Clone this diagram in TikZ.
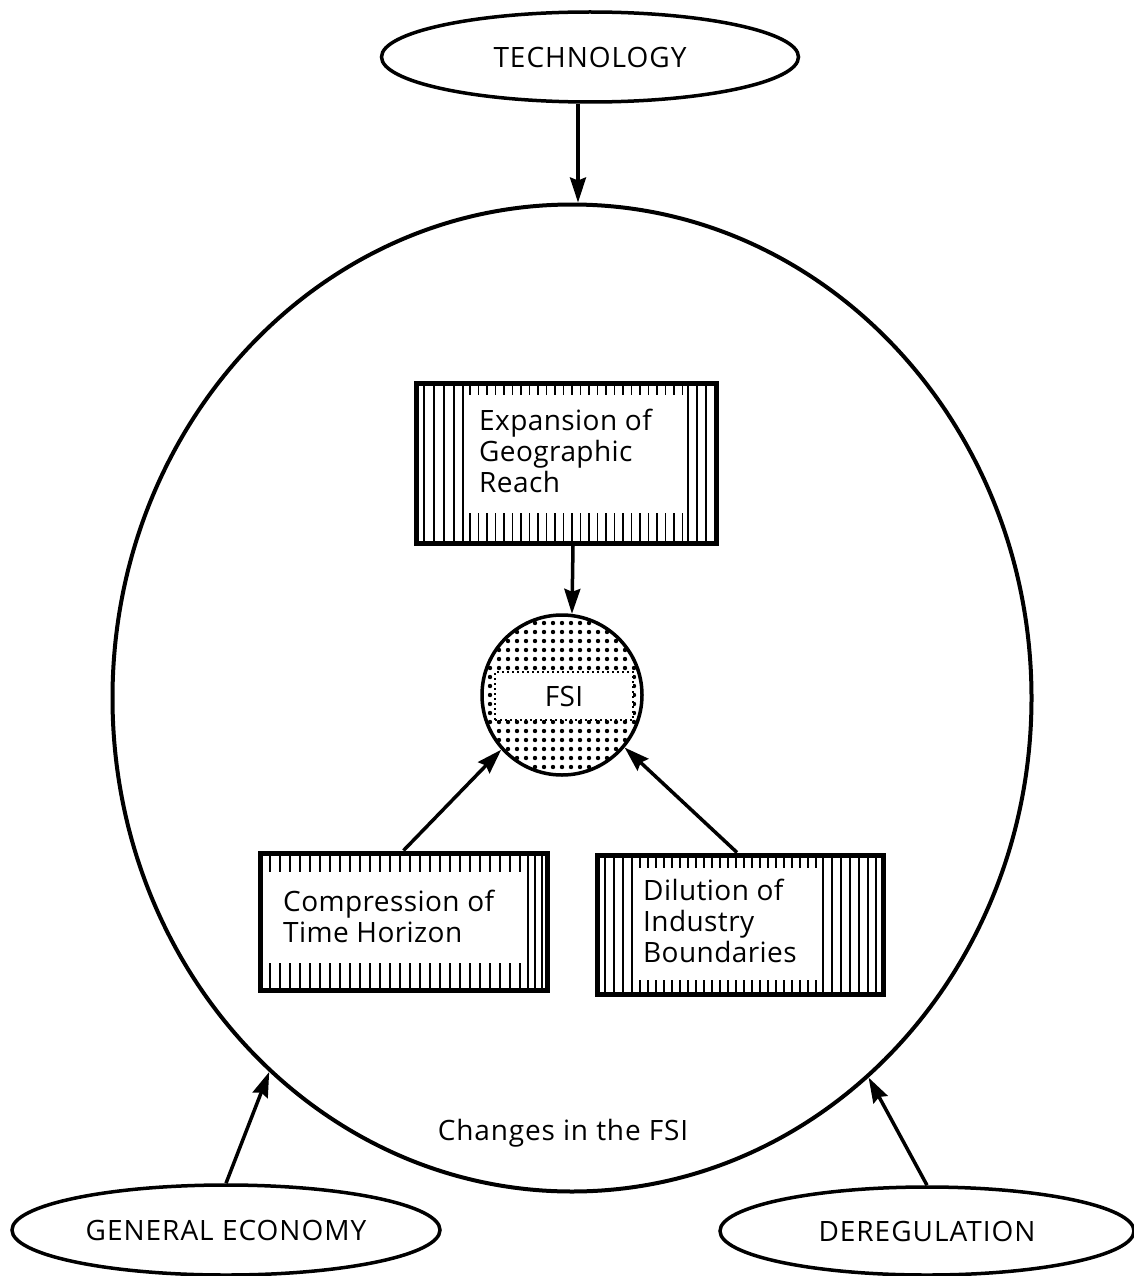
\documentclass[tikz,border=0pt]{standalone}
\usepackage{fontspec}
\setmainfont{Open Sans}[LetterSpace=1.5]
\newfontfamily\ovalfont{Open Sans}[LetterSpace=3.5]
\newfontfamily\capfont{Open Sans}[LetterSpace=3]
\usetikzlibrary{shapes.geometric,arrows.meta,calc}
\begin{document}
\begin{tikzpicture}[x=1pt,y=-1pt,
  oval/.style={ellipse, draw, line width=3.5pt, inner sep=0pt, font=\ovalfont\fontsize{28}{32}\selectfont},
  arr/.style={line width=3.5pt, -{Stealth[length=25pt,width=16pt,inset=3pt]}},
  boxframe/.style={draw, line width=5pt, inner sep=0pt},
  boxtext/.style={align=left, inner sep=0pt, font=\fontsize{28}{31}\selectfont},
  hatch/.style={line width=1.6pt}]
\useasboundingbox[fill=white] (0,0) rectangle (1133,1276);

% the surrounding industry
\node[ellipse, draw, line width=4pt, minimum width=919pt, minimum height=987pt, inner sep=0pt] (world) at (572,698) {};

% external forces
\node[oval, minimum width=417pt, minimum height=90pt] (tech) at (590,57) {TECHNOLOGY};
\node[oval, minimum width=428pt, minimum height=90pt] (econ) at (226,1230) {GENERAL ECONOMY};
\node[oval, minimum width=414pt, minimum height=88pt] (dereg) at (927,1231) {DEREGULATION};

% Expansion of Geographic Reach
\node[boxframe, minimum width=300pt, minimum height=160pt] (expbox) at (566,463) {};
\foreach \x in {424,434,444,454,463,688,697,706} \draw[hatch] (\x,383) -- (\x,543);
\foreach \x in {470,478.5,...,684} \draw[hatch] (\x,386) -- (\x,395);
\foreach \x in {470,478.5,...,684} \draw[hatch] (\x,513) -- (\x,541);
\node[boxtext, anchor=west] (exptext) at (479,451) {Expansion of\\Geographic\\Reach};

% Compression of Time Horizon
\node[boxframe, minimum width=287pt, minimum height=137pt] (compbox) at (403.5,921.5) {};
\foreach \x in {528,535,542} \draw[hatch] (\x,853) -- (\x,990);
\foreach \x in {270,280,...,522} \draw[hatch] (\x,856) -- (\x,872);
\foreach \x in {270,280,...,522} \draw[hatch] (\x,963) -- (\x,988);
\node[boxtext, anchor=west] (comptext) at (283,916) {Compression of\\Time Horizon};

% Dilution of Industry Boundaries
\node[boxframe, minimum width=286pt, minimum height=139pt] (dilbox) at (740,924.5) {};
\foreach \x in {605,614,623,632,823,832,841,850,859,868,876} \draw[hatch] (\x,855) -- (\x,994);
\foreach \x in {640,648,...,818} \draw[hatch] (\x,858) -- (\x,868);
\foreach \x in {640,648,...,818} \draw[hatch] (\x,980) -- (\x,992);
\node[boxtext, anchor=west] (diltext) at (643,921) {Dilution of\\Industry\\Boundaries};

% FSI: dotted disc with a clear label panel
\begin{scope}
  \clip (562,695) circle (80pt);
  \foreach \i in {0,...,18}
    \foreach \j in {0,...,18}
      \fill (481+9*\i,614+9*\j) circle (2.2pt);
\end{scope}
\node[circle, draw, line width=3.5pt, minimum size=160pt, inner sep=0pt] (fsi) at (562,695) {};
\node[draw, fill=white, line width=1.8pt, dash pattern=on 2pt off 3pt, minimum width=138pt, minimum height=48pt, inner sep=0pt, font=\fontsize{28}{31}\selectfont] (fsilabel) at (564,696) {FSI};

\node[font=\capfont\fontsize{28}{31}\selectfont, inner sep=0pt] (caption) at (563,1133) {Changes in the FSI};

% influences
\draw[arr] ([xshift=-12pt]tech.south) -- ([xshift=6pt]world.north);
\draw[arr] (econ.north) -- (world.231);
\draw[arr] (dereg.north) -- (world.308.5);
\draw[arr] ([xshift=7pt]expbox.south) -- (fsi.83);
\draw[arr] (compbox.north) -- (fsi.222);
\draw[arr] ([xshift=-3pt]dilbox.north) -- (fsi.320);
\end{tikzpicture}
\end{document}
